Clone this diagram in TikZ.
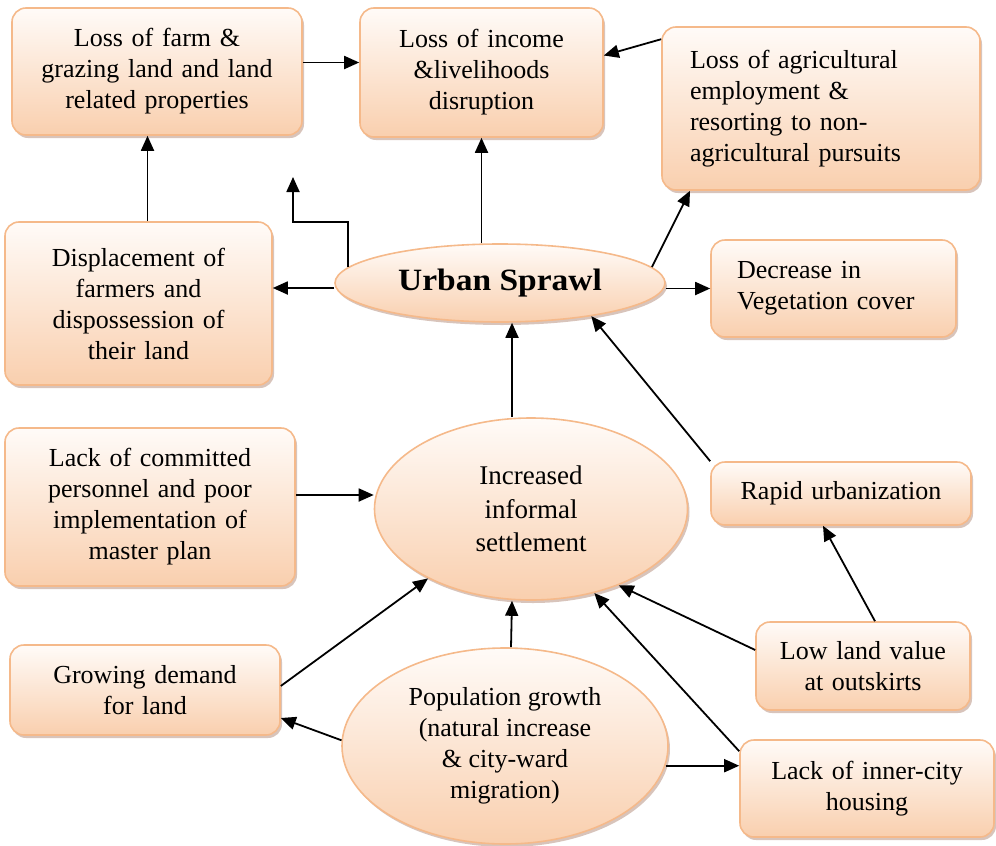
\documentclass[tikz,border=0pt]{standalone}
\usepackage{fontspec}
\setmainfont{Liberation Serif}
\usetikzlibrary{shapes.geometric,arrows.meta,shadows,calc}
\definecolor{bord}{HTML}{F5B98A}
\definecolor{topc}{HTML}{FFFBF8}
\definecolor{botc}{HTML}{F9CFAE}
\definecolor{shad}{HTML}{B89484}
\begin{document}
\begin{tikzpicture}[x=1pt,y=-1pt,font=\fontsize{26}{31}\selectfont,
  base/.style={draw=bord, line width=1.6pt, top color=topc, bottom color=botc,
    drop shadow={shadow xshift=2pt, shadow yshift=-3pt, fill=shad, opacity=.55},
    inner sep=0pt, align=center},
  box/.style={base, rectangle, rounded corners=14pt},
  ell/.style={base, ellipse},
  arr/.style={line width=1.8pt, -{Triangle[length=15pt,width=13pt]}}]
\useasboundingbox (0,0) rectangle (996,846);

\node[box, minimum width=290pt, minimum height=127pt, text width=262pt] (b1) at (157,71.5)
  {Loss of farm \&\\ grazing land and land\\ related properties};
\node[box, minimum width=243pt, minimum height=129pt, text width=215pt] (b2) at (481.5,72.5)
  {Loss of income\\ \&livelihoods\\ disruption};
\node[box, minimum width=318pt, minimum height=163pt, text width=262pt, align=left] (b3) at (821,108.5)
  {Loss of agricultural\\ employment \&\\ resorting to non-\\ agricultural pursuits};
\node[box, minimum width=267pt, minimum height=163pt, text width=240pt] (b4) at (138.5,303.5)
  {Displacement of\\ farmers and\\ dispossession of\\ their land};
\node[ell, minimum width=330pt, minimum height=78pt] (us) at (500,283)
  {\fontsize{31}{34}\selectfont\bfseries\scalebox{1.08}[1]{Urban Sprawl}};
\node[box, minimum width=245pt, minimum height=97pt, text width=193pt, align=left] (b6) at (833.5,288.5)
  {Decrease in\\ Vegetation cover};
\node[box, minimum width=290pt, minimum height=158pt, text width=262pt] (b7) at (150,507)
  {Lack of committed\\ personnel and poor\\ implementation of\\ master plan};
\node[ell, minimum width=313pt, minimum height=182pt, font=\fontsize{27}{33.5}\selectfont] (ie) at (531,509)
  {Increased\\ informal\\ settlement};
\node[box, minimum width=260pt, minimum height=63pt, text width=240pt] (ru) at (841,493.5)
  {Rapid urbanization};
\node[box, minimum width=270pt, minimum height=90pt, text width=240pt] (gd) at (145,690)
  {Growing demand\\ for land};
\node[ell, minimum width=326pt, minimum height=196pt] (pg) at (505,746)
  {Population growth\\ (natural increase\\ \& city-ward\\ migration)};
\node[box, minimum width=214pt, minimum height=88pt, text width=190pt] (lv) at (863,666)
  {Low land value\\ at outskirts};
\node[box, minimum width=254pt, minimum height=97pt, text width=230pt] (li) at (867,788.5)
  {Lack of inner-city\\ housing};

\coordinate (e1) at (293,177);
\coordinate (e2) at (293,222);

\draw[arr] ([yshift=9pt]b1.east) -- ([yshift=9pt]b1.east -| b2.west);
\draw[arr] ([yshift=-13pt]b3.north west) -- ([yshift=17pt]b2.east);
\draw[arr] (us.north -| b2.south) -- (b2.south);
\draw[arr] ([xshift=9pt]b4.north) -- ([xshift=9pt]b4.north |- b1.south);
\draw[arr] (us.174) -- (us.174 |- e2) -- (e2) -- (e1);
\draw[arr] ([yshift=-5pt]us.west) -- ([yshift=-5pt]us.west -| b4.east);
\draw[arr] (us.6) -- ([xshift=-131pt]b3.south);
\draw[arr] (us.east |- b6.west) -- (b6.west);
\draw[arr] ([xshift=-19pt]ie.north) -- ([xshift=-19pt]ie.north |- us.south);
\draw[arr] (ru.north west) -- (us.340);
\draw[arr] ([yshift=12pt]b7.east) -- ([yshift=12pt]b7.east -| ie.west);
\draw[arr] ([xshift=12pt]lv.north) -- ([xshift=-18pt]ru.south);
\draw[arr] ([yshift=16pt]lv.west) -- (ie.319);
\draw[arr] ([yshift=-12pt]li.north west) -- (ie.307);
\draw[arr] ([yshift=4pt]gd.east) -- (ie.214);
\draw[arr] ([xshift=6pt]pg.north) -- ([xshift=-19pt]ie.south);
\draw[arr] (pg.178) -- ([yshift=-28pt]gd.east);
\draw[arr] (pg.353) -- (pg.353 -| li.west);
\end{tikzpicture}
\end{document}
